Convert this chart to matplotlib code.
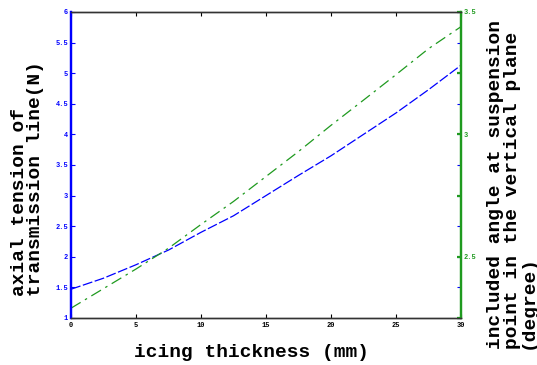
import matplotlib
matplotlib.use("Agg")
import matplotlib.pyplot as plt
from matplotlib.ticker import FixedLocator, FuncFormatter

# ----- data ----------------------------------------------------------
THICKNESS = [0, 2.5, 5, 7.5, 10, 12.5, 15, 17.5, 20, 22.5, 25, 27.5, 30]
TENSION = [1.47, 1.65, 1.87, 2.11, 2.40, 2.67, 3.00, 3.33, 3.65, 4.00,
           4.35, 4.73, 5.13]
ANGLE = [2.29, 2.37, 2.45, 2.535, 2.632, 2.726, 2.828, 2.93, 3.037, 3.14,
         3.244, 3.35, 3.44]

X_TICKS = [0, 5, 10, 15, 20, 25, 30]
LEFT_TICKS = [1, 1.5, 2, 2.5, 3, 3.5, 4, 4.5, 5, 5.5, 6]
RIGHT_TICKS = [2.25, 2.5, 2.75, 3.0, 3.25, 3.5]
RIGHT_LABELED = [2.5, 3.0, 3.5]

BLUE = "#0000ff"
GREEN = "#1f9a1f"
FONT = "Liberation Mono"

fig = plt.figure(figsize=(5.37, 3.65), dpi=100)
ax = fig.add_axes([0.1322, 0.1288, 0.7263, 0.8384])
ax2 = ax.twinx()

ax.plot(THICKNESS, TENSION, color=BLUE, linestyle=(0, (8, 2)), linewidth=0.9)
ax2.plot(THICKNESS, ANGLE, color=GREEN, linestyle=(0, (9, 4, 2, 4)),
         linewidth=0.9)

ax.set_xlim(0, 30)
ax.set_ylim(1, 6)
ax2.set_ylim(2.25, 3.5)

ax.set_xticks(X_TICKS)
ax.set_xticklabels([str(t) for t in X_TICKS], fontsize=5, fontweight="bold",
                   family=FONT)
ax.set_yticks(LEFT_TICKS)
ax.set_yticklabels([f"{t:g}" for t in LEFT_TICKS], fontsize=5,
                   fontweight="bold", family=FONT, color=BLUE)
ax.tick_params(axis="x", direction="in", top=True, length=3, width=0.8,
               pad=3, colors="black")
ax.tick_params(axis="y", direction="in", right=True, length=3, width=0.8,
               pad=2, colors=BLUE)

ax2.yaxis.set_major_locator(FixedLocator(RIGHT_TICKS))
ax2.yaxis.set_major_formatter(
    FuncFormatter(lambda v, p: f"{v:g}" if round(v, 2) in RIGHT_LABELED else ""))
ax2.tick_params(axis="y", direction="in", length=3, width=1.6, pad=2,
                colors=GREEN, labelsize=5)
for lab in ax2.get_yticklabels():
    lab.set_fontweight("bold")
    lab.set_family(FONT)

for a in (ax, ax2):
    a.spines["top"].set_color("#333333")
    a.spines["bottom"].set_color("#333333")
    a.spines["left"].set_color(BLUE)
    a.spines["right"].set_color(GREEN)
    a.spines["left"].set_linewidth(1.6)
    a.spines["right"].set_linewidth(1.6)
    a.spines["top"].set_linewidth(1.0)
    a.spines["bottom"].set_linewidth(1.0)

label_kw = dict(fontsize=14, fontweight="bold", family=FONT)
fig.text(0.469, 0.035, "icing thickness (mm)", ha="center", va="center",
         **label_kw)
fig.text(0.051, 0.19, "axial tension of\ntransmission line(N)",
         rotation=90, ha="center", va="bottom", multialignment="left",
         linespacing=0.95, **label_kw)
fig.text(0.954, 0.045,
         "included angle at suspension\npoint in the vertical plane\n(degree)",
         rotation=90, ha="center", va="bottom", multialignment="left",
         linespacing=0.95, **label_kw)

fig.savefig("out.png", dpi=100, facecolor="white")
